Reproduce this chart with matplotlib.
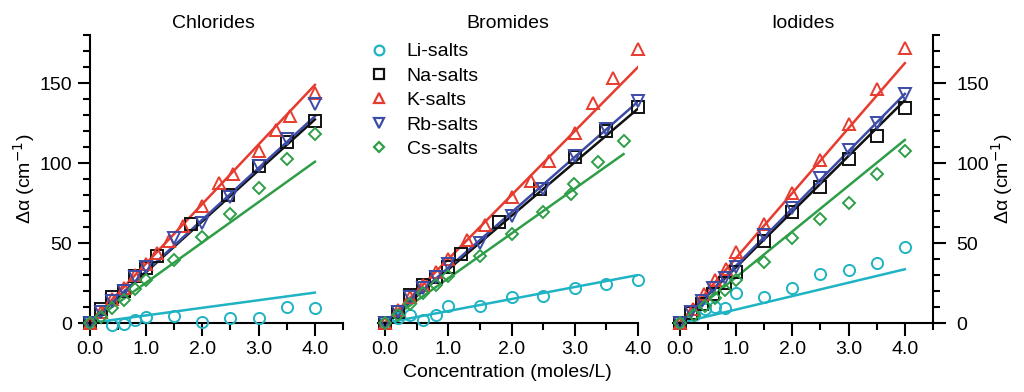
import numpy as np
import matplotlib
matplotlib.use("Agg")
import matplotlib.pyplot as plt
from matplotlib.lines import Line2D

plt.rcParams['font.family'] = ['Liberation Sans', 'DejaVu Sans']
plt.rcParams['font.size'] = 14

salts = ['Li-salts', 'Na-salts', 'K-salts', 'Rb-salts', 'Cs-salts']
colors = ['#1fb3c3', '#111111', '#e63b2e', '#3c4ba6', '#2f9e48']
markers = ['o', 's', '^', 'v', 'D']
msizes = [8, 8, 8, 8, 6]

# Chlorides
cl_li_c = [0, 0.4, 0.6, 0.8, 1.0, 1.5, 2.0, 2.5, 3.0, 3.5, 4.0]
cl_li_v = [0, -1, -0.5, 2, 3.5, 4.5, 0.8, 3.3, 2.9, 10.2, 9.6]
cl_na_c = [0, 0.2, 0.4, 0.6, 0.8, 1.0, 1.2, 1.8, 2.45, 3.0, 3.5, 4.0]
cl_na_v = [0, 8.5, 16, 20, 29.5, 34.5, 42, 62, 80, 98, 113, 126.4]
cl_k_c = [0, 0.2, 0.4, 0.6, 0.8, 1.0, 1.2, 1.4, 1.66, 2.0, 2.3, 2.55, 3.0, 3.3, 3.56, 4.0]
cl_k_v = [0, 7, 15, 22, 30, 37, 44, 51, 60.5, 73, 87.7, 93.3, 107.5, 120.5, 129.5, 144]
cl_rb_c = [0, 0.2, 0.4, 0.6, 0.8, 1.0, 1.5, 2.0, 2.5, 3.0, 3.5, 4.0]
cl_rb_v = [0, 7, 14, 20, 29, 35, 53, 62.6, 79, 98, 115, 137]
cl_cs_c = [0, 0.2, 0.4, 0.6, 0.8, 1.0, 1.5, 2.0, 2.5, 3.0, 3.5, 4.0]
cl_cs_v = [0, 4, 9.5, 14.5, 21, 27, 39.5, 54, 68.4, 84.5, 102.3, 118]
cl_slopes = [4.75, 31.8, 37.2, 32.3, 25.2]

# Bromides
br_li_c = [0, 0.2, 0.4, 0.6, 0.8, 1.0, 1.5, 2.0, 2.5, 3.0, 3.5, 4.0]
br_li_v = [0, 3, 5, 1.9, 5, 10.5, 10.5, 16, 16.7, 21.6, 24.1, 26.6]
br_na_c = [0, 0.2, 0.4, 0.6, 0.8, 1.0, 1.2, 1.8, 2.45, 3.0, 3.5, 4.0]
br_na_v = [0, 7, 17.6, 23.8, 29, 35, 43.3, 63, 84, 103.8, 120, 134.8]
br_k_c = [0, 0.2, 0.4, 0.6, 0.8, 1.0, 1.3, 1.58, 2.0, 2.3, 2.59, 3.0, 3.29, 3.6, 4.0]
br_k_v = [0, 8, 16, 24, 32, 40, 52, 61.5, 78.7, 88.7, 101.3, 118.6, 137.5, 153, 171]
br_rb_c = [0, 0.2, 0.4, 0.6, 0.8, 1.0, 1.5, 2.0, 2.5, 3.0, 3.5, 4.0]
br_rb_v = [0, 7, 16.5, 21.8, 29, 36.6, 50, 66.7, 84, 104.4, 121, 139]
br_cs_c = [0, 0.2, 0.4, 0.6, 0.8, 1.0, 1.5, 2.0, 2.5, 2.94, 2.98, 3.36, 3.77]
br_cs_v = [0, 5, 12, 18.6, 23.8, 29.5, 42, 55.9, 69.2, 80.8, 86.6, 100.6, 113.8]
br_slopes = [7.5, 33.5, 40.0, 34.6, 28.0]

# Iodides
io_li_c = [0, 0.25, 0.45, 0.63, 0.8, 1.0, 1.5, 2.0, 2.5, 3.0, 3.5, 4.0]
io_li_v = [0, 5, 8.6, 10, 9.2, 18.6, 16.5, 21.7, 30.7, 33.2, 37.7, 47.4]
io_na_c = [0, 0.2, 0.4, 0.6, 0.8, 1.0, 1.5, 2.0, 2.5, 3.0, 3.5, 4.0]
io_na_v = [0, 6, 12, 18, 25, 32, 51, 69.3, 85, 102.4, 117, 134.3]
io_k_c = [0, 0.24, 0.44, 0.63, 0.82, 1.0, 1.5, 2.0, 2.5, 3.0, 3.5, 4.0]
io_k_v = [0, 9, 18, 26.8, 33.6, 44.3, 62, 81.2, 101.6, 124.5, 146.3, 172]
io_rb_c = [0, 0.2, 0.4, 0.6, 0.8, 1.0, 1.5, 2.0, 2.5, 3.0, 3.5, 4.0]
io_rb_v = [0, 7, 14, 22, 28, 35, 55, 71.8, 90.5, 108.3, 125, 143]
io_cs_c = [0, 0.25, 0.45, 0.63, 0.8, 1.0, 1.5, 2.0, 2.5, 3.0, 3.5, 4.0]
io_cs_v = [0, 5, 10.6, 15.5, 20.7, 26.9, 38.4, 53, 65, 75.1, 93.2, 107.2]
io_slopes = [8.4, 34.8, 40.6, 35.8, 28.6]

panels = [
    ('Chlorides', [(cl_li_c, cl_li_v), (cl_na_c, cl_na_v), (cl_k_c, cl_k_v),
                   (cl_rb_c, cl_rb_v), (cl_cs_c, cl_cs_v)], cl_slopes),
    ('Bromides', [(br_li_c, br_li_v), (br_na_c, br_na_v), (br_k_c, br_k_v),
                  (br_rb_c, br_rb_v), (br_cs_c, br_cs_v)], br_slopes),
    ('Iodides', [(io_li_c, io_li_v), (io_na_c, io_na_v), (io_k_c, io_k_v),
                 (io_rb_c, io_rb_v), (io_cs_c, io_cs_v)], io_slopes),
]

fig = plt.figure(figsize=(10.24, 3.92), dpi=100)
bottom, height = 0.176, 0.7347
ax_l = fig.add_axes([0.0811, bottom, 0.2539, height])
ax_m = fig.add_axes([0.3687, bottom, 0.2544, height])
ax_r = fig.add_axes([0.6572, bottom, 0.2539, height])
axes = [ax_l, ax_m, ax_r]

for ax, (title, series, slopes) in zip(axes, panels):
    for i, (c, v) in enumerate(series):
        xs = np.array([0, max(c)])
        ax.plot(xs, slopes[i] * xs, color=colors[i], lw=1.8, zorder=2)
        ax.plot(c, v, linestyle='none', marker=markers[i], ms=msizes[i],
                mfc='none', mec=colors[i], mew=1.4, clip_on=False, zorder=3)
    ax.set_ylim(0, 180)
    ax.set_title(title, fontsize=14, pad=5)
    ax.spines['top'].set_visible(False)
    ax.spines['bottom'].set_linewidth(1.5)
    ax.spines['bottom'].set_position(('data', 0))
    ax.set_xticks([0, 1, 2, 3, 4])
    ax.set_xticklabels(['0.0', '1.0', '2.0', '3.0', '4.0'])
    ax.tick_params(axis='x', which='major', length=9, width=1.5, pad=4)
    ax.tick_params(axis='x', which='minor', length=5, width=1.5)
    ax.tick_params(axis='y', which='major', length=9, width=1.5)
    ax.tick_params(axis='y', which='minor', length=5, width=1.5)
    ax.set_facecolor('none')

# left panel
ax_l.set_xlim(-0.12, 4.5)
ax_l.set_xticks(np.arange(0, 4.51, 0.5), minor=True)
ax_l.spines['right'].set_visible(False)
ax_l.spines['left'].set_position(('data', 0))
ax_l.spines['left'].set_linewidth(1.5)
ax_l.set_yticks([0, 50, 100, 150])
ax_l.set_yticks(np.arange(0, 181, 10), minor=True)
ax_l.set_ylabel('Δα (cm$^{-1}$)', fontsize=14, labelpad=2)

# middle panel
ax_m.set_xlim(-0.12, 4.0)
ax_m.set_xticks(np.arange(0, 4.01, 0.5), minor=True)
ax_m.spines['left'].set_visible(False)
ax_m.spines['right'].set_visible(False)
ax_m.set_yticks([])
ax_m.set_xlabel('Concentration (moles/L)', fontsize=14, labelpad=4)

# right panel
ax_r.set_xlim(-0.12, 4.5)
ax_r.set_xticks(np.arange(0, 4.51, 0.5), minor=True)
ax_r.spines['left'].set_visible(False)
ax_r.spines['right'].set_linewidth(1.5)
ax_r.yaxis.tick_right()
ax_r.yaxis.set_label_position('right')
ax_r.set_yticks([0, 50, 100, 150])
ax_r.set_yticks(np.arange(0, 181, 10), minor=True)
ax_r.tick_params(axis='y', which='major', pad=8)
ax_r.set_ylabel('Δα (cm$^{-1}$)', fontsize=14, rotation=90, labelpad=0)

handles = [Line2D([], [], linestyle='none', marker=markers[i], ms=msizes[i] - 1,
                  mfc='none', mec=colors[i], mew=1.6) for i in range(5)]
ax_m.legend(handles, salts, loc='upper left', bbox_to_anchor=(-0.06, 1.0),
            frameon=False, handlelength=1.0, handletextpad=0.9,
            labelspacing=0.35, fontsize=14, borderaxespad=0)

fig.savefig('out.png', dpi=100)
